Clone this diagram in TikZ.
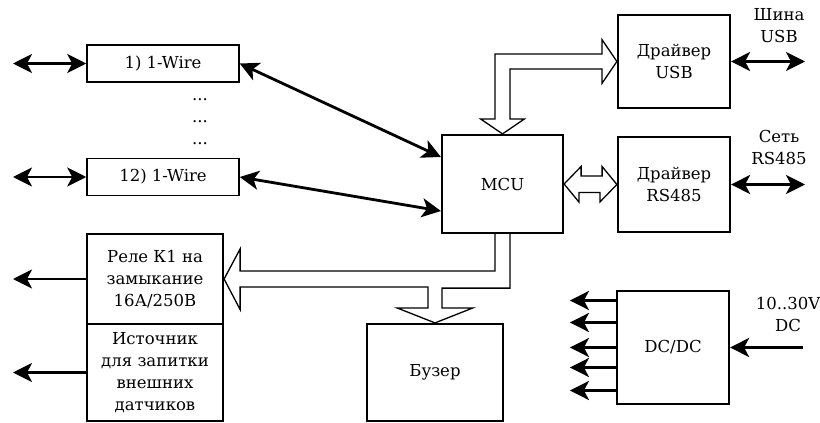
\documentclass[tikz,border=0pt]{standalone}
\usepackage{fontspec}
\setmainfont{DejaVu Serif}
\usetikzlibrary{arrows.meta, calc}

\begin{document}
\begin{tikzpicture}
    [
        x=1pt, y=-1pt,
        font=\fontsize{16.5}{22}\selectfont,
        block/.style = {draw, shape=rectangle, line width=2.2pt, align=center, inner sep=2pt},
        wirebox/.style = {block, line width=1.5pt, minimum width=152pt, minimum height=37pt},
        drvbox/.style = {block, minimum width=112pt, minimum height=93pt},
        lowbox/.style = {block, minimum width=136pt},
        sidetext/.style = {align=center, inner sep=0pt},
        wire/.style = {line width=2.8pt, arrows={-Stealth[length=19pt, width=19pt, inset=5pt]}},
        both/.style = {line width=2.8pt, arrows={Stealth[length=19pt, width=19pt, inset=5pt]-Stealth[length=19pt, width=19pt, inset=5pt]}},
        bus/.style = {line width=1.3pt, fill=white, line join=miter},
    ]

    \useasboundingbox (0,0) rectangle (820,423);

    \node[wirebox] (w1) at (163,63.5) {1) 1-Wire};
    \node[wirebox] (w12) at (163,177) {12) 1-Wire};
    \foreach \y [count=\i] in {100,122,144}
        \node[inner sep=0pt] (dots\i) at (200,\y) {...};

    \node[block, minimum width=121pt, minimum height=98pt] (mcu) at (502.5,184) {MCU};
    \node[drvbox] (usb) at (674,61.5) {Драйвер\\USB};
    \node[drvbox, minimum height=95pt] (rs) at (674,184.5) {Драйвер\\RS485};

    \node[lowbox, minimum height=90pt] (relay) at (155,279) {Реле К1 на\\замыкание\\16А/250В};
    \node[lowbox, minimum height=97pt] (src) at (155,372.5) {Источник\\для запитки\\внешних\\датчиков};
    \node[lowbox, minimum height=97pt] (buz) at (435,372.5) {Бузер};
    \node[block, minimum width=112pt, minimum height=113pt] (dc) at (673,347.5) {DC/DC};

    \node[sidetext] (usbtxt) at (779,26) {Шина\\USB};
    \node[sidetext] (rstxt) at (779,147.5) {Сеть\\RS485};
    \node[sidetext] (dctxt) at (788,314) {10..30V\\DC};

    \coordinate (w1out) at (13,63.5);
    \coordinate (w12out) at (13,177);
    \coordinate (usbout) at (805,61.5);
    \coordinate (rsout) at (805,184.5);
    \coordinate (relout) at (13,279);
    \coordinate (srcout) at (13,372.5);
    \coordinate (dcin) at (803,347.5);

    \draw [both] (w1out) -- (w1);
    \draw [both] (w12out) -- (w12);
    \draw [both] (w1.east) -- ($(mcu.west)+(0,-27)$);
    \draw [both] (w12.east) -- ($(mcu.west)+(0,27)$);
    \draw [both] (usb) -- (usbout);
    \draw [both] (rs) -- (rsout);
    \draw [wire] (relay) -- (relout);
    \draw [wire] (src) -- (srcout);
    \draw [wire] (dcin) -- (dc);
    \foreach \dy [count=\i] in {-47,-25,0,20,43}
    {
        \coordinate (dcpin\i) at ($(dc.west)+(0,\dy)$);
        \coordinate (dcout\i) at ($(dcpin\i)+(-46,0)$);
        \draw [wire] (dcpin\i) -- (dcout\i);
    }

    \draw [bus] (mcu.north) -- ++(-22,-15) -- ++(14.5,0) |- ($(usb.west)+(-15,-7.5)$)
        -- ++(0,-14.5) -- (usb.west) -- ++(-15,22) -- ++(0,-14.5)
        -| ($(mcu.north)+(7.5,-15)$) -- ++(14.5,0) -- cycle;
    \draw [bus] (mcu.east) -- ++(17,-17.5) -- ++(0,9.5) -- ++(21,0) -- ++(0,-9.5)
        -- (rs.west) -- ++(-17,17.5) -- ++(0,-9.5) -- ++(-21,0) -- ++(0,9.5) -- cycle;
    \draw [bus] ($(mcu.south)+(-7.5,0)$) |- ($(relay.east)+(16,-8)$) -- ++(0,-22)
        -- (relay.east) -- ++(16,30.5) -- ++(0,-22.5) -| ($(buz.north)+(-7,-15)$)
        -- ++(-31,0) -- (buz.north) -- ++(38,-15) -- ++(-31,0)
        |- ($(mcu.south)+(7.5,54)$) -- ($(mcu.south)+(7.5,0)$);
\end{tikzpicture}
\end{document}
